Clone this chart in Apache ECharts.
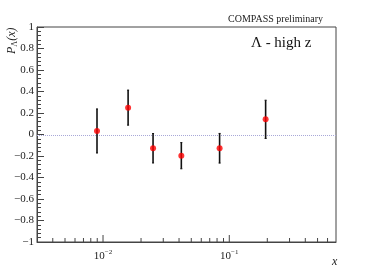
<!DOCTYPE html>
<html><head><meta charset="utf-8">
<script src="https://cdn.jsdelivr.net/npm/echarts@6/dist/echarts.min.js"></script>
<style>html,body{margin:0;padding:0;background:#fff}#c{width:374px;height:269px}</style>
</head><body><div id="c"></div>
<script>
var xValues = [0.00896, 0.0158, 0.0249, 0.0417, 0.0838, 0.194];
var yValues = [0.033, 0.25, -0.128, -0.197, -0.128, 0.141];
var yErrors = [0.205, 0.163, 0.137, 0.122, 0.138, 0.178];
var xMajorTicks = [0.01, 0.1];
var xMinorTicks = [0.004,0.005,0.006,0.007,0.008,0.009,0.02,0.03,0.04,0.05,0.06,0.07,0.08,0.09,0.2,0.3,0.4,0.5,0.6];
var xRange = [0.003, 0.7];
var refLineY = [0];

var FONT = '"Liberation Serif","DejaVu Serif",serif';
var AX = '#444';
var chart = echarts.init(document.getElementById('c'), null, {renderer:'canvas'});

var tickData = xMajorTicks.map(function(v){return [v,1];}).concat(xMinorTicks.map(function(v){return [v,0];}));

chart.setOption({
  animation:false,
  grid:{left:37,right:38,top:27,bottom:27,show:true,borderColor:AX,borderWidth:1,backgroundColor:'transparent'},
  xAxis:{type:'log',logBase:10,min:xRange[0],max:xRange[1],
    axisLine:{show:true,onZero:false,lineStyle:{color:AX,width:1}},
    axisTick:{show:false},splitLine:{show:false},minorTick:{show:false},
    axisLabel:{margin:7,color:'#222',fontFamily:FONT,showMinLabel:false,showMaxLabel:false,
      formatter:function(v){
        var e=Math.round(Math.log10(v));
        if(Math.abs(Math.log10(v)-e)>1e-6) return '';
        return '{b|10}{s|\u2212'+Math.abs(e)+'}';
      },
      rich:{b:{fontFamily:FONT,fontSize:11,color:'#222'},s:{fontFamily:FONT,fontSize:7,color:'#222',padding:[0,0,7,0]}}
    }
  },
  yAxis:{type:'value',min:-1,max:1,interval:0.2,
    axisLine:{show:true,onZero:false,lineStyle:{color:AX,width:1}},
    axisTick:{show:true,inside:true,length:7,lineStyle:{color:AX}},
    minorTick:{show:true,splitNumber:5,length:4,lineStyle:{color:AX}},
    splitLine:{show:false},
    axisLabel:{margin:3,color:'#222',fontFamily:FONT,fontSize:11,
      formatter:function(v){
        var r=Math.round(v*10)/10;
        if(r===0) return '0';
        return (r<0?'\u2212':'')+String(Math.abs(r));
      }}
  },
  series:[
    {type:'custom',name:'zero',silent:true,z:2,
      data:refLineY.map(function(y){return [y];}),
      renderItem:function(params,api){
        var a=api.coord([xRange[0],api.value(0)]);
        var b=api.coord([xRange[1],api.value(0)]);
        var y=Math.round(a[1])+0.5;
        return {type:'line',shape:{x1:a[0],y1:y,x2:b[0],y2:y},style:{stroke:'#a8a8d8',lineWidth:1,lineDash:[1,1]}};
      }
    },
    {type:'custom',name:'xticks',silent:true,clip:false,z:3,
      data:tickData,
      renderItem:function(params,api){
        var p=api.coord([api.value(0),-1]);
        var len=api.value(1)?7:4;
        return {type:'line',shape:{x1:p[0],y1:p[1],x2:p[0],y2:p[1]-len},style:{stroke:AX,lineWidth:1}};
      }
    },
    {type:'custom',name:'errors',z:4,
      data:xValues.map(function(x,i){return [x,yValues[i]-yErrors[i],yValues[i]+yErrors[i]];}),
      renderItem:function(params,api){
        var a=api.coord([api.value(0),api.value(1)]);
        var b=api.coord([api.value(0),api.value(2)]);
        return {type:'group',children:[
          {type:'line',shape:{x1:a[0],y1:a[1],x2:b[0],y2:b[1]},style:{stroke:'#111',lineWidth:1.6}},
          {type:'line',shape:{x1:a[0]-1,y1:a[1],x2:a[0]+1,y2:a[1]},style:{stroke:'#111',lineWidth:1}},
          {type:'line',shape:{x1:b[0]-1,y1:b[1],x2:b[0]+1,y2:b[1]},style:{stroke:'#111',lineWidth:1}}
        ]};
      }
    },
    {type:'scatter',name:'P',z:5,symbol:'circle',symbolSize:6,
      itemStyle:{color:'#ff0000'},
      data:xValues.map(function(x,i){return [x,yValues[i]];})
    }
  ],
  graphic:[
    {type:'text',right:51,top:14,style:{text:'COMPASS preliminary',font:'10px '+FONT,fill:'#222',textAlign:'right'}},
    {type:'text',left:251,top:36,style:{text:'\u039b - high z',font:'15px '+FONT,fill:'#111'}},
    {type:'text',x:332,y:256,style:{text:'x',font:'italic 12px '+FONT,fill:'#222'}},
    {type:'text',x:5,y:54,rotation:Math.PI/2,
      style:{text:'{p|P}{s|\u039b}{p|(x)}',fill:'#222',
        rich:{p:{font:'italic 12px '+FONT,fill:'#222'},s:{font:'8px '+FONT,fill:'#222',padding:[6,0,0,0]}}}}
  ]
});
</script></body></html>
